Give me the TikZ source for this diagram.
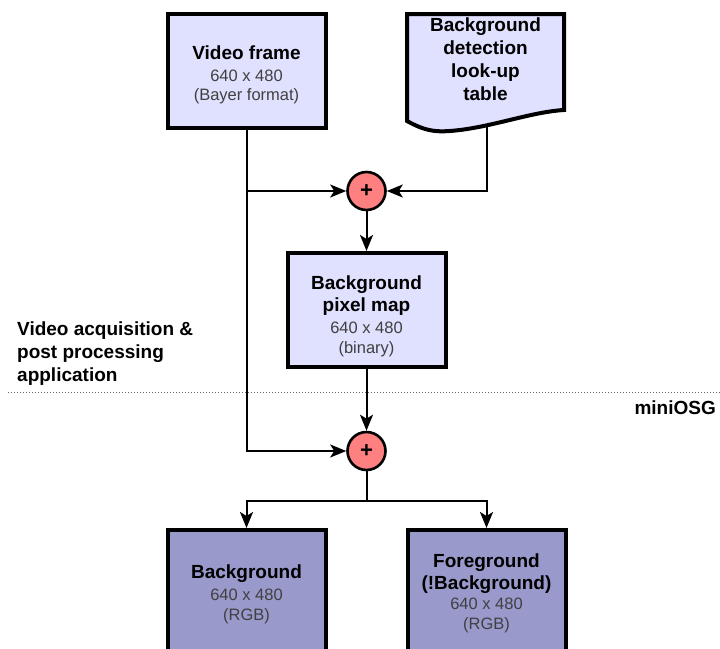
\documentclass[tikz,border=0pt]{standalone}
\usepackage{fontspec}
\setmainfont{Liberation Sans}
\usetikzlibrary{arrows.meta}
\definecolor{lightbox}{RGB}{224,224,255}
\definecolor{darkbox}{RGB}{153,153,204}
\definecolor{sumred}{RGB}{255,128,128}
\definecolor{subgray}{RGB}{64,64,64}
\newcommand{\ttl}[1]{{\fontsize{19}{22}\selectfont\bfseries #1}}
\newcommand{\subt}[1]{{\color{subgray}#1}}
\begin{document}
\begin{tikzpicture}[x=1pt,y=-1pt,
    every node/.style={font=\fontsize{16.5}{22}\selectfont},
    datbox/.style={draw,line width=4pt,fill=lightbox,minimum width=158pt,minimum height=114pt,align=center,inner sep=0pt},
    outbox/.style={datbox,fill=darkbox,minimum height=124pt},
    summer/.style={circle,draw,line width=2.6pt,fill=sumred,minimum size=38pt,inner sep=0pt,font=\fontsize{22}{22}\selectfont\bfseries},
    conn/.style={line width=2pt,-{Stealth[length=16pt,width=13pt,inset=4pt]}}]
    \useasboundingbox (0,0) rectangle (720,648);
    % data boxes
    \node[datbox] (frame) at (246.5,71) {\ttl{\rule{0pt}{22pt}Video frame}\\\subt{640 x 480}\\[-3pt]\subt{(Bayer format)}};
    \draw[line width=4pt,fill=lightbox] (407,14) -- (564,14) -- (564,110) .. controls (530,112) and (490,128) .. (450,131) .. controls (435,132) and (425,131) .. (407,121) -- cycle;
    \node[align=center,font=\fontsize{19}{23}\selectfont\bfseries] (table) at (485.5,59) {Background\\detection\\look-up\\table};
    \coordinate (tabbot) at (486.5,126);
    \node[summer] (sum1) at (366.5,191) {+};
    \node[datbox] (pixmap) at (366.5,310) {\ttl{\rule{0pt}{26pt}Background}\\\ttl{pixel map}\\\subt{640 x 480}\\[-2pt]\subt{(binary)}};
    \node[summer] (sum2) at (366.5,451) {+};
    \node[outbox] (bg) at (246.5,592) {\ttl{\rule{0pt}{18pt}Background}\\\subt{640 x 480}\\[-2pt]\subt{(RGB)}};
    \node[outbox] (fg) at (486.5,592) {\ttl{\rule{0pt}{17pt}Foreground}\\\ttl{(!Background)}\\[-2pt]\subt{640 x 480}\\[-2pt]\subt{(RGB)}};
    % layers
    \draw[dotted,line width=1pt,black!60] (8,392) -- (720,392);
    \node[anchor=west,align=left,inner sep=0pt,font=\fontsize{19}{23}\selectfont\bfseries] (app) at (17,354) {Video acquisition \&\\post processing\\application};
    \node[anchor=base east,inner sep=0pt,font=\fontsize{19}{23}\selectfont\bfseries] (osg) at (716,414) {miniOSG};
    % connectors
    \draw[conn] (frame.south) |- (sum2.west);
    \draw[conn] (frame.south |- sum1.west) -- (sum1.west);
    \draw[conn] (tabbot) |- (sum1.east);
    \draw[conn] (sum1.south) -- (pixmap.north);
    \draw[conn] (pixmap.south) -- (sum2.north);
    \coordinate (fork) at (366.5,501);
    \draw[line width=2pt] (sum2.south) -- (fork);
    \draw[conn] (fork) -| (bg.north);
    \draw[conn] (fork) -| (fg.north);
\end{tikzpicture}
\end{document}
